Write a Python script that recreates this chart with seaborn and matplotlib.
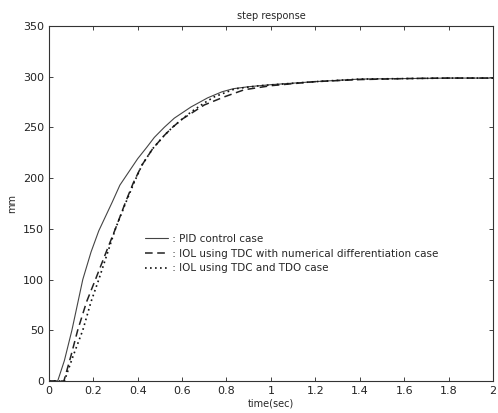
import numpy as np
import pandas as pd
import seaborn as sns
import matplotlib.pyplot as plt

# values (time in sec, position in mm)
pid_t = [0, 0.04, 0.07, 0.104, 0.153, 0.19, 0.225, 0.255, 0.285, 0.32, 0.36, 0.40, 0.44,
         0.475, 0.52, 0.565, 0.64, 0.715, 0.78, 0.83, 0.9, 1.0, 1.2, 1.4, 1.6, 1.8, 2.0]
pid_y = [0, 0, 20, 50, 100, 127, 148, 162, 176, 193, 206, 219, 230,
         240, 250, 259, 270, 279, 285, 288, 290, 292, 295, 297.5, 298, 298.5, 298.5]

tdc_t = [0, 0.068, 0.10, 0.13, 0.17, 0.21, 0.26, 0.30, 0.345, 0.38, 0.42, 0.468, 0.52,
         0.557, 0.60, 0.65, 0.70, 0.79, 0.88, 1.0, 1.2, 1.4, 1.6, 1.8, 2.0]
tdc_y = [0, 0, 25, 50, 78, 100, 128, 150, 176, 195, 213, 229, 242,
         250, 258, 265, 272, 280, 287, 291, 295, 297, 298, 298.5, 298.5]

tdo_t = [0, 0.07, 0.11, 0.153, 0.19, 0.225, 0.27, 0.30, 0.347, 0.385, 0.42, 0.468, 0.52,
         0.557, 0.60, 0.64, 0.70, 0.745, 0.84, 0.95, 1.2, 1.4, 1.6, 1.8, 2.0]
tdo_y = [0, 0, 25, 50, 78, 100, 130, 150, 176, 196, 213, 229, 242,
         250, 258, 265, 274, 280, 288, 291, 295, 297.5, 298, 298.5, 298.5]

labels = [' : PID control case',
          ' : IOL using TDC with numerical differentiation case',
          ' : IOL using TDC and TDO case']

sns.set_style("ticks")
plt.rcParams['font.family'] = ['DejaVu Sans']

fig = plt.figure(figsize=(4.98, 4.13), dpi=100)
ax = fig.add_axes([0.098, 0.0775, 0.892, 0.86])

df_pid = pd.DataFrame({'t': pid_t, 'y': pid_y})
df_tdc = pd.DataFrame({'t': tdc_t, 'y': tdc_y})
df_tdo = pd.DataFrame({'t': tdo_t, 'y': tdo_y})

sns.lineplot(data=df_pid, x='t', y='y', ax=ax, color='#444444', linewidth=0.8,
             linestyle='-', label=labels[0])
sns.lineplot(data=df_tdc, x='t', y='y', ax=ax, color='#222222', linewidth=1.1,
             linestyle=(0, (5, 3)), label=labels[1])
sns.lineplot(data=df_tdo, x='t', y='y', ax=ax, color='#111111', linewidth=1.2,
             linestyle=(0, (1, 2)), label=labels[2])

ax.set_xlim(0, 2)
ax.set_ylim(0, 350)
ax.set_xticks(np.arange(0, 2.01, 0.2))
ax.set_xticklabels(['0', '0.2', '0.4', '0.6', '0.8', '1', '1.2', '1.4', '1.6', '1.8', '2'])
ax.set_yticks(np.arange(0, 351, 50))
ax.tick_params(direction='in', top=True, right=True, labelsize=8, length=3, width=0.6,
               colors='#222222')
for s in ax.spines.values():
    s.set_linewidth(0.8)
    s.set_color('#333333')

ax.set_title('step response', fontsize=7, pad=5)
ax.set_xlabel('time(sec)', fontsize=7, labelpad=2)
ax.set_ylabel('mm', fontsize=7, labelpad=4)

ax.legend(loc='upper left', bbox_to_anchor=(0.195, 0.44), frameon=False, fontsize=7.5,
          handlelength=2.2, handletextpad=0.1, labelspacing=0.45)

fig.savefig('out.png', dpi=100)
